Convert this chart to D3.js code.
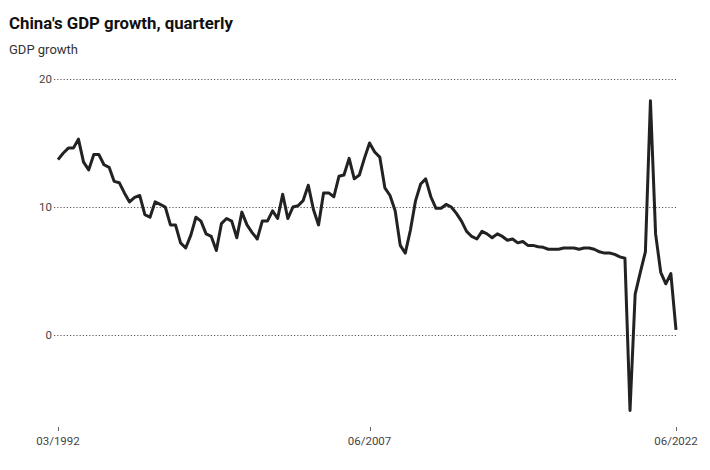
<!DOCTYPE html>
<html>
<head>
<meta charset="utf-8">
<script src="https://cdn.jsdelivr.net/npm/d3@7"></script>
<style>
  body { margin: 0; background: #fff; font-family: Roboto, "Noto Sans", sans-serif; }
  svg text { font-family: Roboto, "Noto Sans", sans-serif; }
</style>
</head>
<body>
<svg id="chart" width="710" height="470"></svg>
<script>
// ========= Data (year-on-year GDP growth, %, Q1 1992 .. Q2 2022)
const startYear = 1992;
const startQuarter = 1;
const growth = [
  13.7, 14.2, 14.6, 14.6, 15.3, 13.5, 12.9, 14.1, 14.1, 13.3,
  13.1, 12.0, 11.9, 11.1, 10.4, 10.75, 10.9, 9.4, 9.2, 10.4,
  10.2, 10.0, 8.6, 8.6, 7.2, 6.8, 7.8, 9.2, 8.9, 7.9,
  7.7, 6.6, 8.7, 9.1, 8.9, 7.6, 9.6, 8.6, 8.0, 7.5,
  8.9, 8.9, 9.7, 9.1, 11.0, 9.1, 10.0, 10.1, 10.5, 11.7,
  9.8, 8.6, 11.1, 11.1, 10.8, 12.4, 12.5, 13.8, 12.2, 12.5,
  13.8, 15.0, 14.3, 13.9, 11.5, 10.9, 9.7, 7.0, 6.4, 8.2,
  10.5, 11.8, 12.2, 10.8, 9.9, 9.9, 10.2, 10.0, 9.5, 8.9,
  8.1, 7.7, 7.5, 8.1, 7.9, 7.6, 7.9, 7.7, 7.4, 7.5,
  7.2, 7.3, 7.0, 7.0, 6.9, 6.85, 6.7, 6.7, 6.7, 6.8,
  6.8, 6.8, 6.7, 6.8, 6.8, 6.7, 6.5, 6.4, 6.4, 6.3,
  6.1, 6.0, -5.9, 3.2, 4.9, 6.5, 18.3, 7.9, 4.9, 4.0,
  4.8, 0.4
];
const yTicks = [0, 10, 20];
const xTickLabels = ["03/1992", "06/2007", "06/2022"];

const titleText = "China's GDP growth, quarterly";
const subtitleText = "GDP growth";

// build dated rows
const rows = growth.map((v, i) => {
  const q = startQuarter - 1 + i;
  const year = startYear + Math.floor(q / 4);
  const month = (q % 4) * 3 + 3;
  return { date: new Date(year, month - 1, 1), value: v };
});
const parseLabel = d3.timeParse("%m/%Y");

// ========= Layout
const svg = d3.select("#chart");
const left = 58, right = 676;

svg.append("text")
  .attr("x", 9).attr("y", 29)
  .attr("font-size", 16.8).attr("font-weight", 700)
  .attr("fill", "#111")
  .text(titleText);

svg.append("text")
  .attr("x", 9).attr("y", 54)
  .attr("font-size", 13)
  .attr("fill", "#333")
  .text(subtitleText);

const x = d3.scaleTime()
  .domain(d3.extent(rows, d => d.date))
  .range([left, right]);

const y = d3.scaleLinear()
  .domain([0, 20])
  .range([335, 79]);

// gridlines + y labels
const grid = svg.append("g");
grid.selectAll("line")
  .data(yTicks)
  .enter()
  .append("line")
  .attr("x1", 54).attr("x2", 677)
  .attr("y1", d => Math.round(y(d)) + 0.5)
  .attr("y2", d => Math.round(y(d)) + 0.5)
  .attr("stroke", "#555")
  .attr("stroke-width", 1)
  .attr("stroke-dasharray", "1.2,2");

grid.selectAll("text")
  .data(yTicks)
  .enter()
  .append("text")
  .attr("x", 52)
  .attr("y", d => y(d))
  .attr("dy", "0.35em")
  .attr("text-anchor", "end")
  .attr("font-size", 11.5)
  .attr("fill", "#444")
  .text(d => d);

// x axis ticks
const xAxis = svg.append("g");
const tickDates = xTickLabels.map(parseLabel);
xAxis.selectAll("line")
  .data(tickDates)
  .enter()
  .append("line")
  .attr("x1", d => Math.round(x(d)) + 0.5)
  .attr("x2", d => Math.round(x(d)) + 0.5)
  .attr("y1", 427).attr("y2", 431)
  .attr("stroke", "#666");

xAxis.selectAll("text")
  .data(xTickLabels)
  .enter()
  .append("text")
  .attr("x", (d, i) => x(tickDates[i]))
  .attr("y", 445)
  .attr("text-anchor", "middle")
  .attr("font-size", 11.5)
  .attr("fill", "#444")
  .text(d => d);

// line
const line = d3.line()
  .x(d => x(d.date))
  .y(d => y(d.value));

svg.append("path")
  .datum(rows)
  .attr("fill", "none")
  .attr("stroke", "#222")
  .attr("stroke-width", 3)
  .attr("stroke-linejoin", "round")
  .attr("d", line);
</script>
</body>
</html>
